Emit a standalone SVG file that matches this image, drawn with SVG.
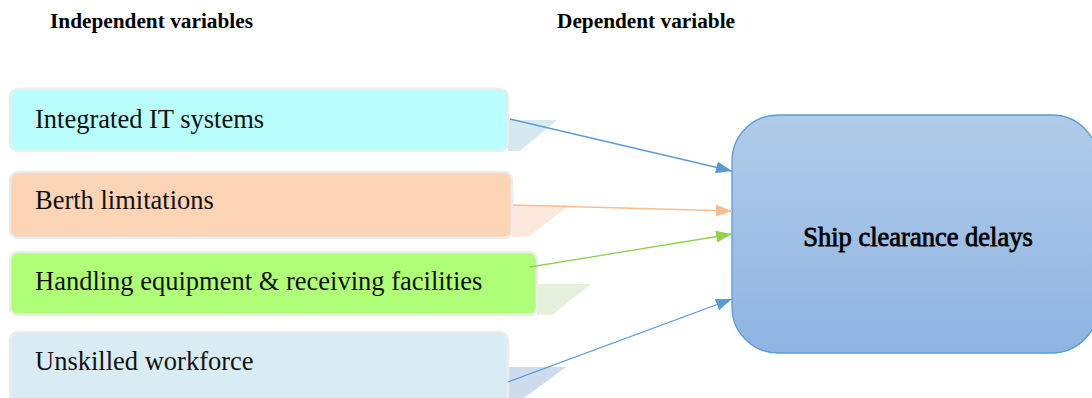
<svg xmlns="http://www.w3.org/2000/svg" width="1092" height="398" viewBox="0 0 1092 398">
  <style>
    .hdr { font-family: "Liberation Serif", "Times New Roman", serif; font-size: 21.3px; font-weight: bold; fill: #000; }
    .lbl { font-family: "Liberation Serif", "Times New Roman", serif; font-size: 26.5px; fill: #111; }
    .box { stroke: #ececec; stroke-width: 2.5; }
    .main { font-family: "Liberation Serif", "Times New Roman", serif; font-size: 26.5px; fill: #000; stroke: #000; stroke-width: 0.8; }
    .conn { fill: none; stroke-width: 1.3; }
  </style>
  <defs>
    <linearGradient id="mainFill" x1="0" y1="0" x2="0" y2="1">
      <stop offset="0" stop-color="#b1cbe9"/>
      <stop offset="1" stop-color="#8fb4e2"/>
    </linearGradient>
    <marker id="arrBlue" markerWidth="16" markerHeight="12" refX="16" refY="6" orient="auto" markerUnits="userSpaceOnUse">
      <path d="M0,0 L16,6 L0,12 Z" fill="#5b9bd5"/>
    </marker>
    <marker id="arrOrange" markerWidth="16" markerHeight="12" refX="16" refY="6" orient="auto" markerUnits="userSpaceOnUse">
      <path d="M0,0 L16,6 L0,12 Z" fill="#f8bd8c"/>
    </marker>
    <marker id="arrGreen" markerWidth="16" markerHeight="12" refX="16" refY="6" orient="auto" markerUnits="userSpaceOnUse">
      <path d="M0,0 L16,6 L0,12 Z" fill="#8fd14f"/>
    </marker>
  </defs>

  <!-- column headings -->
  <text class="hdr" x="50" y="28">Independent variables</text>
  <text class="hdr" x="557" y="28">Dependent variable</text>

  <!-- independent variable boxes, each with its trailing shadow -->
  <g id="node-it">
    <polygon points="508,120 557,120 520,151 508,151" fill="#d6e9f1"/>
    <rect class="box" x="10" y="89" width="498" height="62" rx="8" fill="#b9fefd"/>
    <text class="lbl" x="35" y="128">Integrated IT systems</text>
  </g>
  <g id="node-berth">
    <polygon points="512,205 570,205 528,237 512,237" fill="#fbe7db"/>
    <rect class="box" x="10" y="172" width="502" height="66" rx="8" fill="#fad4b4"/>
    <text class="lbl" x="35" y="209">Berth limitations</text>
  </g>
  <g id="node-handling">
    <polygon points="537,284 591,284 552,315 537,315" fill="#e4efdc"/>
    <rect class="box" x="10" y="252" width="527" height="63" rx="8" fill="#b0ff78"/>
    <text class="lbl" x="35" y="290">Handling equipment &amp; receiving facilities</text>
  </g>
  <g id="node-workforce">
    <polygon points="508,367 566,367 524,398 508,398" fill="#cddcec"/>
    <rect class="box" x="10" y="332" width="498" height="72" rx="8" fill="#daecf3"/>
    <text class="lbl" x="35" y="370">Unskilled workforce</text>
  </g>

  <!-- dependent variable -->
  <g id="node-delays">
    <rect x="732" y="115" width="366" height="238" rx="46" fill="url(#mainFill)" stroke="#5b9bd5" stroke-width="1.3"/>
    <text class="main" x="918" y="246" text-anchor="middle">Ship clearance delays</text>
  </g>

  <!-- connectors -->
  <g id="connectors">
    <line class="conn" x1="510" y1="119" x2="732" y2="171" stroke="#5b9bd5" marker-end="url(#arrBlue)"/>
    <line class="conn" x1="513" y1="205" x2="732" y2="211" stroke="#f8bd8c" marker-end="url(#arrOrange)"/>
    <line class="conn" x1="530" y1="267" x2="732" y2="234" stroke="#8fd14f" marker-end="url(#arrGreen)"/>
    <line class="conn" x1="508" y1="382" x2="732" y2="299" stroke="#5b9bd5" marker-end="url(#arrBlue)"/>
  </g>
</svg>
